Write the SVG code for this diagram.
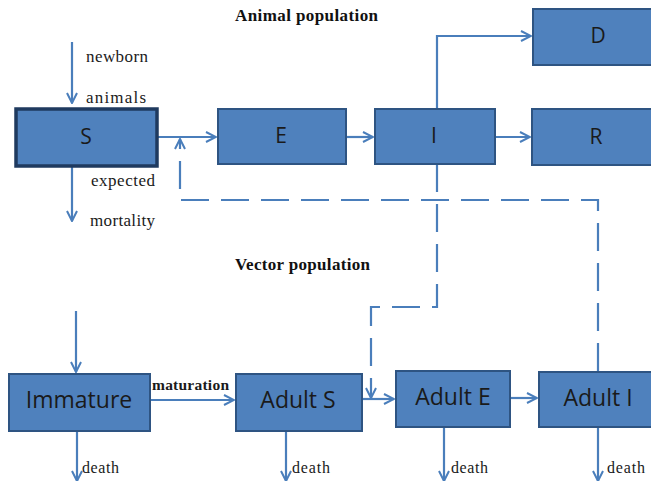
<svg xmlns="http://www.w3.org/2000/svg" width="651" height="481" viewBox="0 0 651 481">
<defs>
<marker id="arr" viewBox="0 0 12 12" refX="11" refY="6" markerWidth="12" markerHeight="12" markerUnits="userSpaceOnUse" orient="auto">
<path d="M1,1 L11,6 L1,11" fill="none" stroke="#4A7EBB" stroke-width="2"/>
</marker>
</defs>
<style>
.box{fill:#4F81BD;stroke:#2E5482;stroke-width:2}
.boxS{fill:#4F81BD;stroke:#1F3A5F;stroke-width:3.5}
.lbl{font-family:"Open Sans","Noto Sans",sans-serif;fill:#1a1a1a;text-anchor:middle}
.big{font-size:23px}
.sm{font-size:21px}
.ln{fill:none;stroke:#4A7EBB;stroke-width:2.2}
.dash{stroke-dasharray:28 12}
.ser{font-family:"Liberation Serif","Times New Roman",serif;fill:#1a1a1a;font-size:17px}
.dt{font-size:16px}
.hd{font-family:"Liberation Serif","Times New Roman",serif;fill:#111;font-size:17px;font-weight:bold}
</style>
<rect width="651" height="481" fill="#ffffff"/>
<text class="hd" x="235" y="21" textLength="143">Animal population</text>
<text class="hd" x="235" y="270" textLength="135">Vector population</text>
<g id="connectors">
<line class="ln" x1="72" y1="42" x2="72" y2="103" marker-end="url(#arr)"/>
<line class="ln" x1="72" y1="167" x2="72" y2="221" marker-end="url(#arr)"/>
<line class="ln" x1="157" y1="137" x2="216" y2="137" marker-end="url(#arr)"/>
<line class="ln" x1="346" y1="137" x2="373" y2="137" marker-end="url(#arr)"/>
<line class="ln" x1="495" y1="137" x2="530" y2="137" marker-end="url(#arr)"/>
<polyline class="ln" points="437,108 437,36 531,36" marker-end="url(#arr)"/>
<polyline class="ln dash" points="598,371 598,200 180,200 180,139" marker-end="url(#arr)"/>
<polyline class="ln dash" points="437,164 437,307 371,307 371,398" marker-end="url(#arr)"/>
<line class="ln" x1="76" y1="311" x2="76" y2="372" marker-end="url(#arr)"/>
<line class="ln" x1="150" y1="400" x2="234" y2="400" marker-end="url(#arr)"/>
<line class="ln" x1="362" y1="399" x2="394" y2="399" marker-end="url(#arr)"/>
<line class="ln" x1="510" y1="398" x2="537" y2="398" marker-end="url(#arr)"/>
<line class="ln" x1="77" y1="431" x2="77" y2="481" marker-end="url(#arr)"/>
<line class="ln" x1="286" y1="431" x2="286" y2="481" marker-end="url(#arr)"/>
<line class="ln" x1="444" y1="427" x2="444" y2="481" marker-end="url(#arr)"/>
<line class="ln" x1="598" y1="427" x2="598" y2="481" marker-end="url(#arr)"/>
</g>
<text class="ser" x="86" y="62" textLength="62">newborn</text>
<text class="ser" x="86" y="103" textLength="60">animals</text>
<text class="ser" x="91" y="186" textLength="64">expected</text>
<text class="ser" x="90" y="226" textLength="65">mortality</text>
<text class="ser" x="152" y="390" textLength="77" style="font-weight:bold;font-size:15.5px">maturation</text>
<text class="ser dt" x="82" y="473" textLength="37">death</text>
<text class="ser dt" x="292" y="473" textLength="38">death</text>
<text class="ser dt" x="451" y="473" textLength="37">death</text>
<text class="ser dt" x="607" y="473" textLength="38">death</text>
<g id="S"><rect class="boxS" x="16" y="109" width="141" height="57"/><text class="lbl sm" x="86" y="144">S</text></g>
<g id="E"><rect class="box" x="218" y="109" width="128" height="55"/><text class="lbl sm" x="281" y="143">E</text></g>
<g id="I"><rect class="box" x="375" y="109" width="120" height="55"/><text class="lbl sm" x="434" y="143">I</text></g>
<g id="R"><rect class="box" x="532" y="109" width="125" height="56"/><text class="lbl sm" x="596" y="144">R</text></g>
<g id="D"><rect class="box" x="533" y="9" width="125" height="56"/><text class="lbl sm" x="598" y="43">D</text></g>
<g id="Immature"><rect class="box" x="9" y="374" width="141" height="57"/><text class="lbl big" x="79" y="408">Immature</text></g>
<g id="AdultS"><rect class="box" x="236" y="374" width="126" height="57"/><text class="lbl big" x="298" y="408">Adult S</text></g>
<g id="AdultE"><rect class="box" x="396" y="371" width="114" height="56"/><text class="lbl big" x="453" y="405">Adult E</text></g>
<g id="AdultI"><rect class="box" x="539" y="372" width="120" height="55"/><text class="lbl big" x="598" y="406">Adult I</text></g>
</svg>
